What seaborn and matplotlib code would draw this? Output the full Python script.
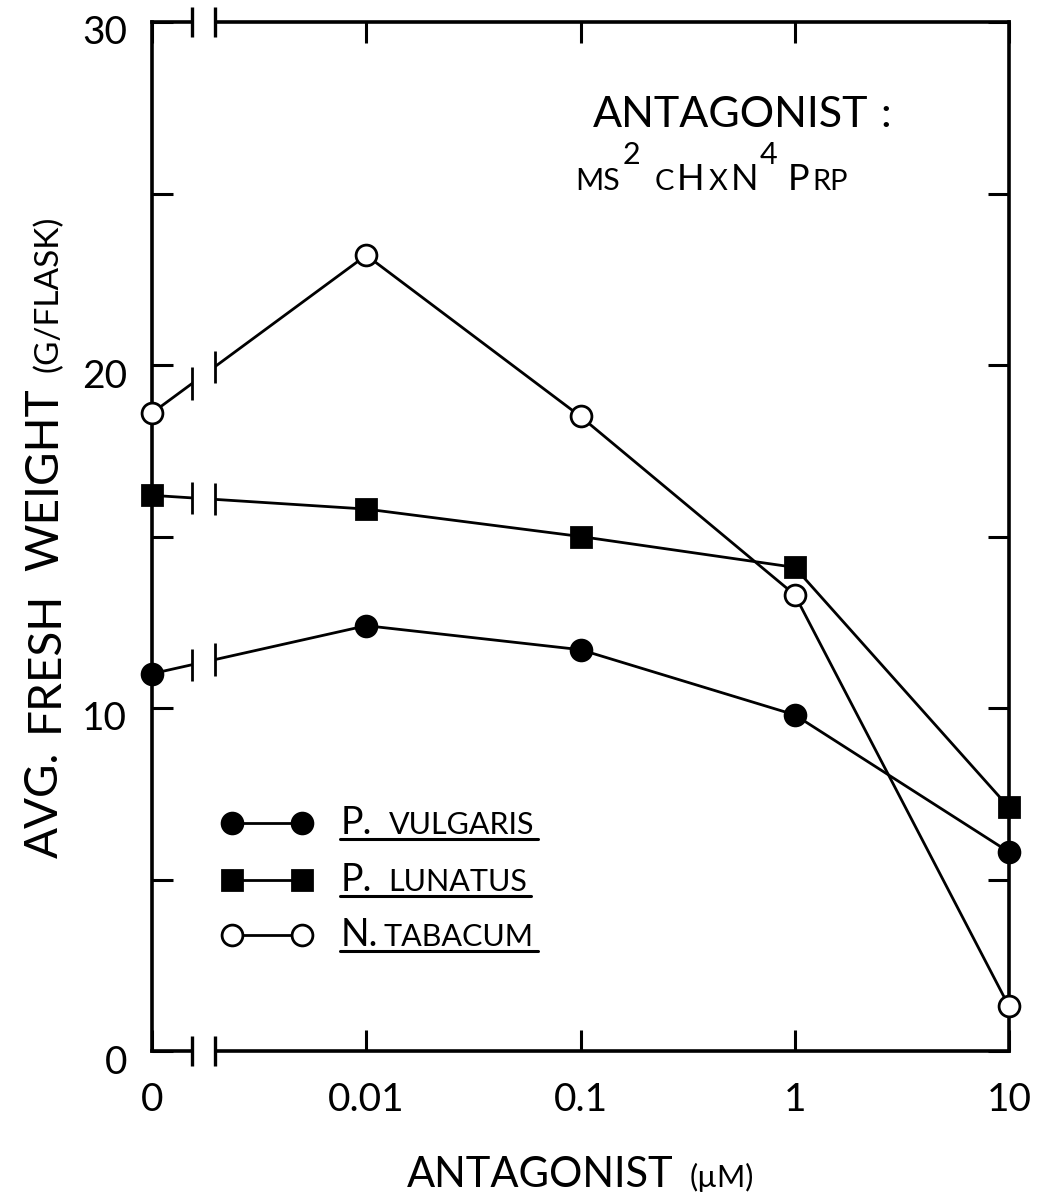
import numpy as np
import pandas as pd
import matplotlib
matplotlib.use("Agg")
import matplotlib.pyplot as plt
import matplotlib.transforms as mtransforms
from matplotlib.lines import Line2D
from matplotlib.patches import Rectangle
import seaborn as sns

# values (g / flask)
concentrations = [0, 0.01, 0.1, 1, 10]
conc_labels = ["0", "0.01", "0.1", "1", "10"]
vulgaris = [11.0, 12.4, 11.7, 9.8, 5.8]
lunatus = [16.2, 15.8, 15.0, 14.1, 7.1]
tabacum = [18.6, 23.2, 18.5, 13.3, 1.3]
species = ["P. vulgaris", "P. lunatus", "N. tabacum"]

# log scale, the zero dose sits one decade below 0.01
conc = np.array(concentrations, dtype=float)
xpos = np.log10(np.where(conc == 0, conc[1] / 10, conc))

df = pd.DataFrame({
    "species": np.repeat(species, len(conc)),
    "xpos": np.tile(xpos, 3),
    "weight": vulgaris + lunatus + tabacum,
})

styles = {
    "P. vulgaris": dict(marker="o", mfc="black", ms=15),
    "P. lunatus": dict(marker="s", mfc="black", ms=14),
    "N. tabacum": dict(marker="o", mfc="white", ms=15),
}

sns.set_style("ticks")
FONT = ["Lato", "DejaVu Sans"]
plt.rcParams["font.family"] = FONT

W, H = 1039, 1200
fig = plt.figure(figsize=(W / 100, H / 100), dpi=100)
ax = fig.add_axes([152 / W, 1 - 1051 / H, (1009 - 152) / W, (1051 - 22) / H])

for sp in species:
    st = styles[sp]
    sns.lineplot(data=df[df.species == sp], x="xpos", y="weight", ax=ax,
                 color="black", lw=2, marker=st["marker"], markersize=st["ms"],
                 markerfacecolor=st["mfc"], markeredgecolor="black",
                 markeredgewidth=2, errorbar=None, clip_on=False, zorder=3,
                 legend=False)

ax.set_xlim(xpos[0], xpos[-1])
ax.set_ylim(0, 30)
for s in ax.spines.values():
    s.set_linewidth(2.6)
    s.set_color("black")

ax.set_xticks(xpos)
ax.set_xticklabels(conc_labels)
ax.set_yticks(np.arange(0, 31, 5))
ax.set_yticklabels([str(v) if v % 10 == 0 else "" for v in range(0, 31, 5)])
ax.tick_params(direction="in", length=15, width=2.2, top=True, right=True,
               labelsize=28, colors="black")
ax.tick_params(axis="x", pad=22)
ax.tick_params(axis="y", pad=18)
shift = mtransforms.ScaledTranslation(0, -0.08, fig.dpi_scale_trans)
for lbl in ax.get_yticklabels():
    lbl.set_transform(lbl.get_transform() + shift)
ax.set_xlabel("")
ax.set_ylabel("")

# axis break between 0 and 0.01
g0 = xpos[0] + 40 / 214.25
g1 = xpos[0] + 63 / 214.25
bt = mtransforms.blended_transform_factory(ax.transData, ax.transAxes)
ax.add_patch(Rectangle((g0, -0.03), g1 - g0, 1.06, transform=bt,
                       facecolor="white", edgecolor="none", zorder=5,
                       clip_on=False))
for g in (g0, g1):
    for yc in (0, 1):
        ax.plot([g, g], [yc - 0.015, yc + 0.015], transform=bt, color="black",
                lw=2.4, clip_on=False, zorder=6, solid_capstyle="butt")
    for vals in (vulgaris, lunatus, tabacum):
        yv = np.interp(g, xpos[:2], vals[:2])
        ax.plot([g, g], [yv - 0.47, yv + 0.47], color="black", lw=2,
                clip_on=False, zorder=6, solid_capstyle="butt")

renderer = fig.canvas.get_renderer()


def chain(pieces, x, y, rotation=0, center=False):
    """pieces: (text, size, raise_px, gap_px); x, y in pixels from top-left"""
    texts = []
    adv = 0.0
    for s, size, dy, gap in pieces:
        adv += gap
        t = fig.text(0, 0, s, fontsize=size, ha="left", va="baseline",
                     rotation=rotation, rotation_mode="anchor", color="black")
        texts.append((t, adv, dy))
        bb = t.get_window_extent(renderer)
        adv += bb.height if rotation else bb.width
    start = -adv / 2 if center else 0.0
    for t, a, dy in texts:
        if rotation:
            px, py = x - dy, (H - y) + start + a
        else:
            px, py = x + start + a, (H - y) + dy
        t.set_position((px / W, py / H))
    return texts, start, adv


# axis titles
chain([("ANTAGONIST", 30, 0, 0), ("(µM)", 22, 0, 16)], 407, 1187)
chain([("AVG.", 33, 0, 0), ("FRESH", 33, 0, 20), ("WEIGHT", 33, 0, 20),
       ("(G/FLASK)", 24, 0, 16)], 58, 537, rotation=90, center=True)

# antagonist annotation
chain([("ANTAGONIST", 31, 0, 0), (":", 31, 0, 12)], 593, 127)
chain([("MS", 22, 0, 0), ("2", 22, 26, 3), ("C", 21, 0, 14), ("H", 26, 0, 3),
       ("X", 21, 0, 4), ("N", 26, 0, 3), ("4", 22, 26, 2), ("P", 26, 0, 10),
       ("RP", 21, 0, 3)], 575, 190)

# legend
leg_rows = [823, 880, 935]
leg_text = [[("P.", 27, 0, 0), ("VULGARIS", 22, 0, 16)],
            [("P.", 27, 0, 0), ("LUNATUS", 22, 0, 16)],
            [("N.", 27, 0, 0), ("TABACUM", 22, 0, 5)]]
for sp, yr, pieces in zip(species, leg_rows, leg_text):
    st = styles[sp]
    fig.add_artist(Line2D([232 / W, 302 / W], [1 - yr / H, 1 - yr / H],
                          color="black", lw=2, marker=st["marker"],
                          markersize=st["ms"], markerfacecolor=st["mfc"],
                          markeredgecolor="black", markeredgewidth=2))
    _, _, width = chain(pieces, 341, yr + 11)
    fig.add_artist(Line2D([340 / W, (341 + width + 4) / W],
                          [1 - (yr + 16) / H, 1 - (yr + 16) / H],
                          color="black", lw=2.2))

fig.savefig("out.png", dpi=100, facecolor="white")
